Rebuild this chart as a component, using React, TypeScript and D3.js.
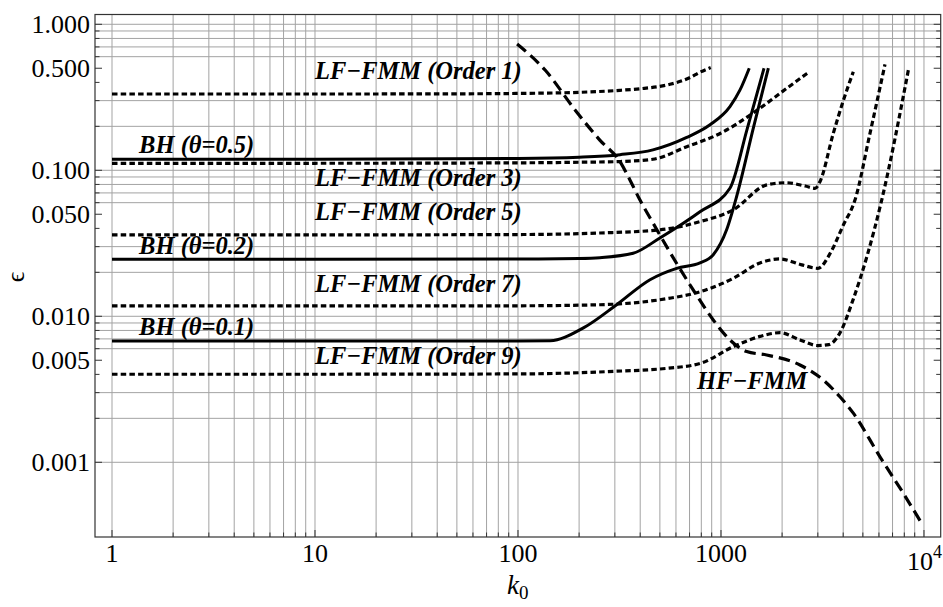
import React, { useEffect, useRef } from 'react';
import * as d3 from 'd3';

// series: [k0, epsilon]
const lfOrder1 = [[1, 0.333], [10, 0.333], [50, 0.334], [100, 0.336], [200, 0.342], [318, 0.353], [400, 0.362], [561, 0.388], [700, 0.43], [788, 0.47], [890, 0.505]];
const lfOrder3 = [[1, 0.1117], [10, 0.1117], [100, 0.1125], [200, 0.1135], [318, 0.1148], [462, 0.119], [678, 0.145], [1000, 0.18], [1437, 0.246], [2106, 0.364], [2723, 0.473]];
const lfOrder5 = [[1, 0.0361], [10, 0.0361], [100, 0.0363], [253, 0.0372], [500, 0.0391], [788, 0.0445], [1150, 0.0536], [1679, 0.0794], [2090, 0.0822], [2600, 0.078], [2905, 0.0753], [3073, 0.0836], [3574, 0.179], [4005, 0.3], [4486, 0.473]];
const lfOrder7 = [[1, 0.01177], [10, 0.01177], [100, 0.0118], [253, 0.012], [540, 0.0132], [788, 0.0147], [1150, 0.0182], [1556, 0.0232], [1953, 0.0247], [2500, 0.0225], [3000, 0.0213], [3500, 0.028], [4000, 0.042], [4571, 0.0625], [5420, 0.179], [6427, 0.532]];
const lfOrder9 = [[1, 0.00401], [10, 0.00401], [100, 0.00403], [300, 0.0042], [540, 0.0044], [788, 0.00475], [1150, 0.00619], [1556, 0.00728], [1953, 0.00772], [2450, 0.00689], [3000, 0.0063], [3400, 0.0064], [3855, 0.0077], [4467, 0.0129], [6190, 0.0625], [8376, 0.486]];
const bh05 = [[1, 0.119], [10, 0.119], [100, 0.1205], [200, 0.123], [318, 0.128], [462, 0.138], [678, 0.168], [883, 0.205], [1107, 0.273], [1241, 0.355], [1378, 0.5]];
const bh02 = [[1, 0.0246], [10, 0.0246], [100, 0.0247], [200, 0.0249], [253, 0.0252], [369, 0.027], [500, 0.0344], [788, 0.052], [1107, 0.0753], [1343, 0.19], [1629, 0.5]];
const bh01 = [[1, 0.00678], [10, 0.00678], [100, 0.00678], [144, 0.0068], [210, 0.00833], [306, 0.012], [447, 0.0178], [605, 0.0213], [788, 0.0232], [916, 0.0264], [1067, 0.0393], [1195, 0.0664], [1450, 0.2], [1711, 0.5]];
const hfFmm = [[99, 0.733], [136, 0.486], [191, 0.259], [253, 0.161], [318, 0.1146], [356, 0.0859], [399, 0.0625], [464, 0.0432], [605, 0.023], [731, 0.0151], [916, 0.00944], [1107, 0.00689], [1339, 0.00573], [1679, 0.00543], [2450, 0.00464], [3190, 0.00366], [3855, 0.00281], [4487, 0.00217], [6070, 0.00109], [7906, 0.000614], [9740, 0.000382]];

const seriesList = [
  { name: 'lf1', values: lfOrder1, style: 'dot' },
  { name: 'lf3', values: lfOrder3, style: 'dot' },
  { name: 'lf5', values: lfOrder5, style: 'dot' },
  { name: 'lf7', values: lfOrder7, style: 'dot' },
  { name: 'lf9', values: lfOrder9, style: 'dot' },
  { name: 'bh05', values: bh05, style: 'solid' },
  { name: 'bh02', values: bh02, style: 'solid' },
  { name: 'bh01', values: bh01, style: 'solid' },
  { name: 'hf', values: hfFmm, style: 'dash' }
];

// curve labels: text, k0 at left edge, epsilon at baseline
const curveLabels = [
  { text: 'LF\u2212FMM (Order 1)', k0: 10, eps: 0.42 },
  { text: 'BH (\u03b8=0.5)', k0: 1.36, eps: 0.131 },
  { text: 'LF\u2212FMM (Order 3)', k0: 10, eps: 0.078 },
  { text: 'LF\u2212FMM (Order 5)', k0: 10, eps: 0.0455 },
  { text: 'BH (\u03b8=0.2)', k0: 1.36, eps: 0.0268 },
  { text: 'LF\u2212FMM (Order 7)', k0: 10, eps: 0.0146 },
  { text: 'BH (\u03b8=0.1)', k0: 1.36, eps: 0.00745 },
  { text: 'LF\u2212FMM (Order 9)', k0: 10, eps: 0.00468 },
  { text: 'HF\u2212FMM', k0: 762, eps: 0.00318 }
];

const yTickVals = [1, 0.5, 0.1, 0.05, 0.01, 0.005, 0.001];
const yTickLabels = ['1.000', '0.500', '0.100', '0.050', '0.010', '0.005', '0.001'];
const xTickVals = [1, 10, 100, 1000];
const xTickLabels = ['1', '10', '100', '1000'];
// mantissas that carry a horizontal grid line in each decade
const yGridMantissas = [1, 2, 3, 6, 7, 8, 9];

const W = 943;
const H = 607;

const App = () => {
  const svgRef = useRef(null);

  useEffect(() => {
    const svg = d3.select(svgRef.current);
    svg.selectAll('*').remove();

    const left = 95, right = 940.7, top = 14.5, bottom = 537;
    const x = d3.scaleLog().domain([0.8246, 12088]).range([left, right]);
    const y = d3.scaleLog().domain([3.078e-4, 1.167]).range([bottom, top]);
    const font = "'Liberation Serif', 'Times New Roman', serif";

    const xGrid = [];
    for (let e = 0; e < 4; e++) for (let m = 1; m <= 9; m++) xGrid.push(m * Math.pow(10, e));
    xGrid.push(10000);
    const yMinor = [];
    for (let e = -3; e < 0; e++) for (let m = 1; m <= 9; m++) yMinor.push(+(m * Math.pow(10, e)).toPrecision(3));
    yMinor.push(1);
    const yGrid = [];
    for (let e = -3; e < 0; e++) yGridMantissas.forEach(m => yGrid.push(+(m * Math.pow(10, e)).toPrecision(3)));
    yGrid.push(1);

    const grid = svg.append('g').attr('stroke', '#a3a3a3').attr('stroke-width', 1);
    grid.selectAll('.gx').data(xGrid).enter().append('line')
      .attr('x1', d => x(d)).attr('x2', d => x(d)).attr('y1', top).attr('y2', bottom);
    grid.selectAll('.gy').data(yGrid).enter().append('line')
      .attr('x1', left).attr('x2', right).attr('y1', d => y(d)).attr('y2', d => y(d));

    // ticks
    const ticks = svg.append('g').attr('stroke', '#333').attr('stroke-width', 1);
    const isMajorY = d => yTickVals.some(v => Math.abs(v - d) / v < 1e-6);
    const isMajorX = d => [1, 10, 100, 1000, 10000].indexOf(d) >= 0;
    ticks.selectAll('.ty').data(yMinor).enter().append('line')
      .attr('x1', left).attr('x2', d => left + (isMajorY(d) ? 7 : 4.5))
      .attr('y1', d => y(d)).attr('y2', d => y(d));
    ticks.selectAll('.tyr').data(yMinor).enter().append('line')
      .attr('x1', right).attr('x2', d => right - (isMajorY(d) ? 7 : 4.5))
      .attr('y1', d => y(d)).attr('y2', d => y(d));
    ticks.selectAll('.tx').data(xGrid).enter().append('line')
      .attr('x1', d => x(d)).attr('x2', d => x(d))
      .attr('y1', bottom).attr('y2', d => bottom - (isMajorX(d) ? 7 : 4.5));

    // frame
    svg.append('rect').attr('x', left).attr('y', top).attr('width', right - left).attr('height', bottom - top)
      .attr('fill', 'none').attr('stroke', '#333').attr('stroke-width', 1.2);

    // curves
    svg.append('clipPath').attr('id', 'plotclip').append('rect')
      .attr('x', left).attr('y', top).attr('width', right - left).attr('height', bottom - top);
    const line = d3.line().x(d => x(d[0])).y(d => y(d[1])).curve(d3.curveMonotoneX);
    const dashFor = s => (s === 'dot' ? '5.5,3.2' : s === 'dash' ? '11.5,6' : null);
    svg.append('g').attr('clip-path', 'url(#plotclip)')
      .selectAll('path').data(seriesList).enter().append('path')
      .attr('d', d => line(d.values))
      .attr('fill', 'none').attr('stroke', '#000')
      .attr('stroke-width', d => (d.style === 'solid' ? 3 : 3.2))
      .attr('stroke-dasharray', d => dashFor(d.style));

    // curve labels
    svg.append('g').selectAll('text').data(curveLabels).enter().append('text')
      .attr('x', d => x(d.k0)).attr('y', d => y(d.eps))
      .attr('font-family', font).attr('font-size', 24.5)
      .attr('font-weight', 'bold').attr('font-style', 'italic')
      .attr('fill', '#000')
      .text(d => d.text);

    // y tick labels
    svg.append('g').selectAll('text').data(yTickVals).enter().append('text')
      .attr('x', 90).attr('y', d => y(d)).attr('dy', '0.33em')
      .attr('text-anchor', 'end').attr('font-family', font).attr('font-size', 26)
      .text((d, i) => yTickLabels[i]);

    // x tick labels
    svg.append('g').selectAll('text').data(xTickVals).enter().append('text')
      .attr('x', d => x(d)).attr('y', 562)
      .attr('text-anchor', 'middle').attr('font-family', font).attr('font-size', 26)
      .text((d, i) => xTickLabels[i]);
    const t4 = svg.append('text').attr('x', x(10000) - 17).attr('y', 570)
      .attr('font-family', font).attr('font-size', 26);
    t4.append('tspan').text('10');
    t4.append('tspan').attr('dy', -12).attr('font-size', 18).text('4');

    // axis titles
    const xt = svg.append('text').attr('x', 507).attr('y', 594).attr('font-family', font).attr('font-size', 27);
    xt.append('tspan').attr('font-style', 'italic').text('k');
    xt.append('tspan').attr('dy', 5).attr('font-size', 19).text('0');
    svg.append('text').attr('transform', 'translate(24,277) rotate(-90)')
      .attr('text-anchor', 'middle').attr('font-family', font).attr('font-size', 26)
      .text('\u03f5');
  }, []);

  return (
    <div style={{ position: 'absolute', left: 0, top: 0, background: '#fff' }}>
      <svg ref={svgRef} width={W} height={H}></svg>
    </div>
  );
};

export default App;
